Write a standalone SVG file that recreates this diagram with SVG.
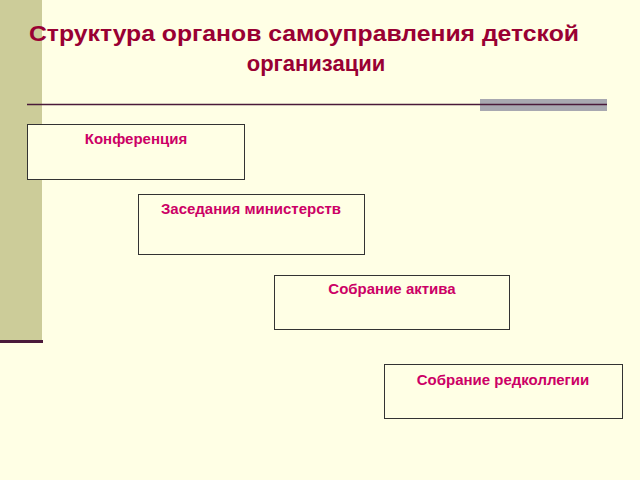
<svg xmlns="http://www.w3.org/2000/svg" width="640" height="480" viewBox="0 0 640 480">
<style>
.box{fill:#FFFFE5;stroke:#333;stroke-width:1}
.lbl{font-family:"Liberation Sans",Arial,sans-serif;font-weight:bold;font-size:15px;fill:#CC0066;text-anchor:middle}
.ttl{font-family:"Liberation Sans",Arial,sans-serif;font-weight:bold;font-size:22px;fill:#990033;text-anchor:middle}
</style>
<rect width="640" height="480" fill="#FFFFE5"/>
<rect x="0" y="0" width="42" height="340" fill="#CCCC99"/>
<rect x="0" y="340" width="43" height="3" fill="#4A1A3A"/>
<text class="ttl" x="304" y="41" textLength="550" lengthAdjust="spacingAndGlyphs">Структура органов самоуправления детской</text>
<text class="ttl" x="316" y="71">организации</text>
<rect x="480" y="99" width="127" height="12" fill="#A8A8B0"/>
<line x1="27" y1="104.5" x2="607" y2="104.5" stroke="#4A1A3A" stroke-width="1.5"/>
<g id="connectors"/>
<g id="n1"><rect class="box" x="27.5" y="124.5" width="217" height="55"/><text class="lbl" x="136" y="144">Конференция</text></g>
<g id="n2"><rect class="box" x="138.5" y="194.5" width="226" height="60"/><text class="lbl" x="251" y="214">Заседания министерств</text></g>
<g id="n3"><rect class="box" x="274.5" y="275.5" width="235" height="54"/><text class="lbl" x="392" y="294">Собрание актива</text></g>
<g id="n4"><rect class="box" x="384.5" y="364.5" width="238" height="54"/><text class="lbl" x="503" y="385">Собрание редколлегии</text></g>
</svg>
